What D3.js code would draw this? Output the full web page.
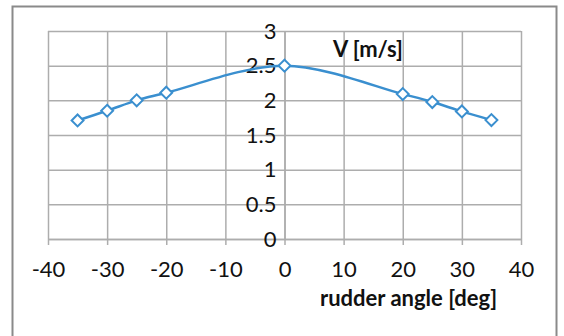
<!DOCTYPE html>
<html>
<head>
<meta charset="utf-8">
<script src="https://cdn.jsdelivr.net/npm/d3@7/dist/d3.min.js"></script>
<style>
  html, body { margin: 0; padding: 0; background: #fff; }
  svg { display: block; }
  text { font-family: Lato, "Open Sans", sans-serif; fill: #111; }
</style>
</head>
<body>
<svg id="chart" width="564" height="336"></svg>
<script>
// Rudder angle (deg) and resulting speed V (m/s)
const angles = [-35, -30, -25, -20, 0, 20, 25, 30, 35];
const speeds = [1.71, 1.85, 2.0, 2.11, 2.5, 2.09, 1.975, 1.84, 1.715];
const xTicks = [-40, -30, -20, -10, 0, 10, 20, 30, 40];
const yTicks = [0, 0.5, 1, 1.5, 2, 2.5, 3];
const xTitle = "rudder angle [deg]";
const yTitle = "V [m/s]";

const svg = d3.select("#chart");

const plot = { left: 48, right: 521, top: 31, bottom: 239 };
const x = d3.scaleLinear().domain([-40, 40]).range([plot.left, plot.right]);
const y = d3.scaleLinear().domain([0, 3]).range([plot.bottom, plot.top]);

const gridColor = "#adadad";
const lineColor = "#3a8fcf";
const labelSize = 22;

// chart frame
svg.append("rect")
  .attr("x", 12.5).attr("y", 6.5)
  .attr("width", 544).attr("height", 340)
  .attr("fill", "#fff")
  .attr("stroke", "#8a8a8a")
  .attr("stroke-width", 2);

// vertical gridlines
svg.append("g")
  .attr("transform", `translate(0,${plot.top})`)
  .call(d3.axisTop(x).tickValues(xTicks).tickSize(-(plot.bottom - plot.top)).tickFormat(""))
  .call(g => g.select(".domain").remove())
  .call(g => g.selectAll("line").attr("stroke", gridColor).attr("stroke-width", 1.5));

// horizontal gridlines
svg.append("g")
  .attr("transform", `translate(${plot.left},0)`)
  .call(d3.axisLeft(y).tickValues(yTicks).tickSize(-(plot.right - plot.left)).tickFormat(""))
  .call(g => g.select(".domain").remove())
  .call(g => g.selectAll("line").attr("stroke", gridColor).attr("stroke-width", 1.5));

// x axis along V = 0, with tick marks hanging below
svg.append("g")
  .attr("transform", `translate(0,${y(0)})`)
  .call(d3.axisBottom(x).tickValues(xTicks).tickSize(6).tickPadding(16).tickSizeOuter(0)
    .tickFormat(d3.format("d")))
  .call(g => g.select(".domain").attr("stroke", gridColor).attr("stroke-width", 1.5))
  .call(g => g.selectAll("line").attr("stroke", gridColor).attr("stroke-width", 1.5))
  .call(g => g.selectAll("text")
    .attr("font-size", labelSize).attr("fill", "#111")
    .style("font-family", "Lato, sans-serif")
    .text(d => d < 0 ? "-" + Math.abs(d) : String(d)));

// y axis along angle = 0, labels to its left
svg.append("g")
  .attr("transform", `translate(${x(0)},0)`)
  .call(d3.axisLeft(y).tickValues(yTicks).tickSize(0).tickPadding(8).tickSizeOuter(0)
    .tickFormat(d => String(d)))
  .call(g => g.select(".domain").attr("stroke", gridColor).attr("stroke-width", 1.5))
  .call(g => g.selectAll("text")
    .attr("font-size", labelSize).attr("fill", "#111")
    .style("font-family", "Lato, sans-serif"));

// smoothed series line
const pts = angles.map((a, i) => [a, speeds[i]]);
const line = d3.line()
  .x(d => x(d[0])).y(d => y(d[1]))
  .curve(d3.curveCardinal.tension(0));
svg.append("path")
  .datum(pts)
  .attr("d", line)
  .attr("fill", "none")
  .attr("stroke", lineColor)
  .attr("stroke-width", 2.5);

// diamond markers
const diamond = d3.symbol().type(d3.symbolDiamond2).size(90);
svg.append("g").selectAll("path")
  .data(pts)
  .join("path")
  .attr("d", diamond)
  .attr("transform", d => `translate(${x(d[0])},${y(d[1])})`)
  .attr("fill", "#fff")
  .attr("stroke", lineColor)
  .attr("stroke-width", 2);

// axis titles
svg.append("text")
  .attr("x", 333).attr("y", 57)
  .attr("font-size", 22).attr("font-weight", "bold")
  .text(yTitle);

svg.append("text")
  .attr("x", 320).attr("y", 306)
  .attr("font-size", 22).attr("font-weight", "bold")
  .text(xTitle);
</script>
</body>
</html>
